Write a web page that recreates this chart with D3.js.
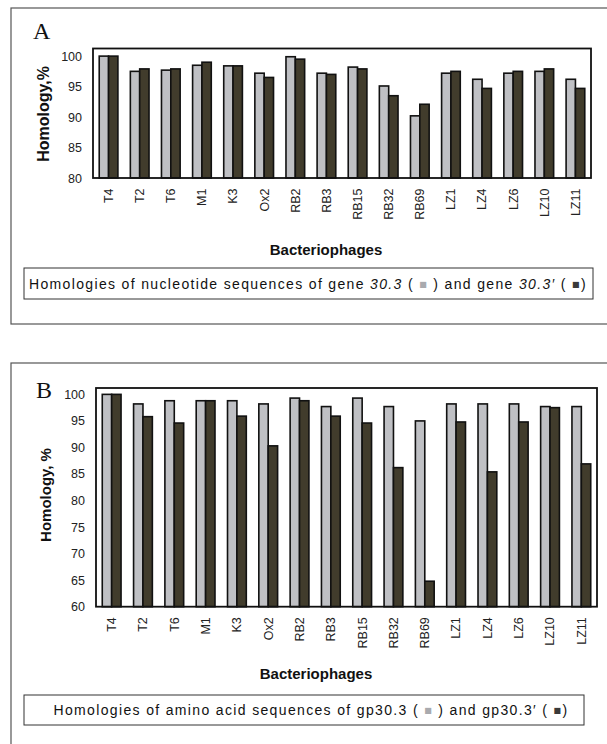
<!DOCTYPE html>
<html>
<head>
<meta charset="utf-8">
<script src="https://cdn.jsdelivr.net/npm/d3@7"></script>
<style>
  body { margin: 0; background: #fff; }
  svg { display: block; font-family: "Liberation Sans", Arial, sans-serif; }
</style>
</head>
<body>
<svg id="chart" width="607" height="744"></svg>
<script>
const categories = ['T4', 'T2', 'T6', 'M1', 'K3', 'Ox2', 'RB2', 'RB3', 'RB15', 'RB32', 'RB69', 'LZ1', 'LZ4', 'LZ6', 'LZ10', 'LZ11']

// panel A: nucleotide sequences
const gene303 = [100, 97.5, 97.7, 98.5, 98.4, 97.2, 99.9, 97.2, 98.2, 95.1, 90.2, 97.2, 96.2, 97.2, 97.5, 96.2]
const gene303p = [100, 97.9, 97.9, 99.0, 98.4, 96.5, 99.5, 97.0, 97.9, 93.5, 92.1, 97.5, 94.7, 97.5, 97.9, 94.7]
const ticksA = [80, 85, 90, 95, 100]

// panel B: amino acid sequences
const gp303 = [100, 98.2, 98.8, 98.8, 98.8, 98.2, 99.3, 97.7, 99.3, 97.7, 95.0, 98.2, 98.2, 98.2, 97.7, 97.7]
const gp303p = [100, 95.8, 94.6, 98.8, 95.9, 90.3, 98.8, 95.9, 94.6, 86.2, 64.8, 94.8, 85.4, 94.8, 97.5, 86.9]
const ticksB = [60, 65, 70, 75, 80, 85, 90, 95, 100]

const lightColor = '#bfc0c4'
const darkColor = '#413c2c'

const svg = d3.select('#chart')

const drawPanel = (cfg) => {
    const g = svg.append('g')

    // outer frame
    g.append('rect')
        .attr('x', cfg.outer[0]).attr('y', cfg.outer[1])
        .attr('width', cfg.outer[2]).attr('height', cfg.outer[3])
        .attr('fill', 'none').attr('stroke', '#555').attr('stroke-width', 1.2)

    const xScale = d3.scaleBand().domain(categories)
        .range([cfg.left, cfg.right]).paddingInner(0.4).paddingOuter(0.2)
    const sub = d3.scaleBand().domain([0, 1]).range([0, xScale.bandwidth()])
    const yScale = d3.scaleLinear().domain(cfg.domain).range([cfg.bottom, cfg.top])

    const rows = categories.map((c, i) => ({ cat: c, vals: [cfg.s1[i], cfg.s2[i]] }))

    g.selectAll('g.pair')
        .data(rows)
        .enter()
        .append('g')
        .attr('transform', d => 'translate(' + xScale(d.cat) + ',0)')
        .selectAll('rect')
        .data(d => d.vals)
        .enter()
        .append('rect')
        .attr('x', (v, j) => sub(j))
        .attr('width', sub.bandwidth())
        .attr('y', v => yScale(v))
        .attr('height', v => cfg.bottom - yScale(v))
        .attr('fill', (v, j) => j === 0 ? lightColor : darkColor)
        .attr('stroke', '#111')
        .attr('stroke-width', 1.6)

    // plot frame
    g.append('rect')
        .attr('x', cfg.left).attr('y', cfg.top)
        .attr('width', cfg.right - cfg.left).attr('height', cfg.bottom - cfg.top)
        .attr('fill', 'none').attr('stroke', '#111').attr('stroke-width', 1.8)

    const yAxis = d3.axisLeft(yScale).tickValues(cfg.ticks).tickSize(0).tickPadding(11)
    const ya = g.append('g').attr('transform', 'translate(' + cfg.left + ',0)').call(yAxis)
    ya.select('.domain').remove()
    ya.selectAll('text').attr('font-size', 12.5).attr('fill', '#222')
        .attr('font-family', '"Liberation Sans", Arial, sans-serif')

    const xAxis = d3.axisBottom(xScale).tickSize(0)
    const xa = g.append('g').attr('transform', 'translate(0,' + cfg.bottom + ')').call(xAxis)
    xa.select('.domain').remove()
    xa.selectAll('text')
        .attr('transform', 'rotate(-90)')
        .attr('text-anchor', 'end')
        .attr('x', -10.5).attr('y', 0).attr('dy', '0.35em')
        .attr('font-size', 12.5).attr('fill', '#222')
        .attr('font-family', '"Liberation Sans", Arial, sans-serif')

    // panel letter
    g.append('text')
        .attr('x', cfg.letterPos[0]).attr('y', cfg.letterPos[1])
        .attr('font-family', '"Liberation Serif", "Times New Roman", serif')
        .attr('font-size', 24).attr('fill', '#111')
        .text(cfg.letter)

    // y title
    g.append('text')
        .attr('transform', 'translate(' + cfg.yTitlePos[0] + ',' + cfg.yTitlePos[1] + ') rotate(-90)')
        .attr('text-anchor', 'middle').attr('dy', '0.35em')
        .attr('font-weight', 'bold').attr('font-size', cfg.yTitleSize).attr('fill', '#111')
        .text(cfg.yTitle)

    // x title
    g.append('text')
        .attr('x', cfg.xTitlePos[0]).attr('y', cfg.xTitlePos[1])
        .attr('text-anchor', 'middle')
        .attr('font-weight', 'bold').attr('font-size', 15).attr('fill', '#111')
        .text('Bacteriophages')

    // caption box
    const cb = cfg.capBox
    g.append('rect')
        .attr('x', cb[0]).attr('y', cb[1]).attr('width', cb[2]).attr('height', cb[3])
        .attr('fill', '#fff').attr('stroke', '#333').attr('stroke-width', 1)

    const cap = g.append('text')
        .attr('x', cfg.capCenter).attr('y', cb[1] + cb[3] / 2 + 5)
        .attr('text-anchor', 'middle')
        .attr('font-size', 14).attr('fill', '#111')
    cfg.caption.forEach(p => {
        const t = cap.append('tspan').text(p.t)
        if (p.i) t.attr('font-style', 'italic')
        if (p.c) t.attr('fill', p.c).attr('font-size', 8)
            .attr('font-family', '"DejaVu Sans", sans-serif')
            .attr('baseline-shift', '2.5px')
    })
    const len = cap.node().getComputedTextLength()
    const nChars = cfg.caption.map(p => p.t).join('').length
    cap.attr('letter-spacing', ((cfg.capWidth - len) / nChars) + 'px')
}

drawPanel({
    outer: [11, 8, 640, 316],
    left: 93, right: 591, top: 48.5, bottom: 178,
    domain: [80, 101.25], ticks: ticksA,
    s1: gene303, s2: gene303p,
    letter: 'A', letterPos: [33, 39],
    yTitle: 'Homology,%', yTitleSize: 16, yTitlePos: [43, 114],
    xTitlePos: [326, 255],
    capBox: [24, 268, 569, 31], capCenter: 308, capWidth: 558,
    caption: [
        { t: 'Homologies of nucleotide sequences of gene ' },
        { t: '30.3', i: true },
        { t: ' ( ' }, { t: '\u25A0', c: '#a9aaae' }, { t: ' ) and gene ' },
        { t: '30.3\u2032', i: true },
        { t: ' ( ' }, { t: '\u25A0', c: '#3a3a3a' }, { t: ')' }
    ]
})

drawPanel({
    outer: [11, 363, 640, 420],
    left: 96, right: 597, top: 388, bottom: 606.7,
    domain: [60, 101.2], ticks: ticksB,
    s1: gp303, s2: gp303p,
    letter: 'B', letterPos: [36, 398],
    yTitle: 'Homology, %', yTitleSize: 15, yTitlePos: [46, 495],
    xTitlePos: [316, 679],
    capBox: [24, 695, 560, 30], capCenter: 311, capWidth: 515,
    caption: [
        { t: 'Homologies of amino acid sequences of gp30.3 ( ' },
        { t: '\u25A0', c: '#a9aaae' },
        { t: ' ) and gp30.3\u2032 ( ' },
        { t: '\u25A0', c: '#3a3a3a' },
        { t: ')' }
    ]
})
</script>
</body>
</html>
